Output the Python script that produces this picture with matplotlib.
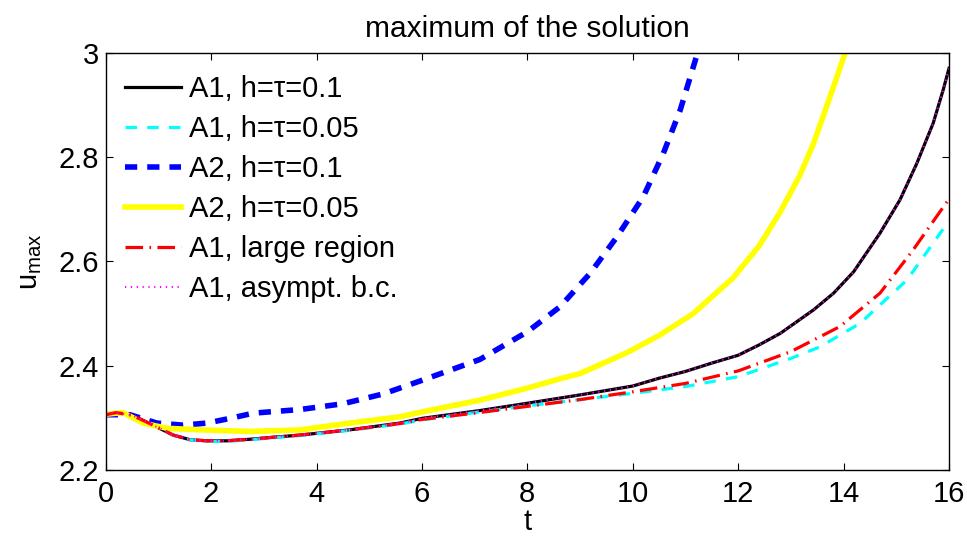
import matplotlib
matplotlib.use('Agg')
import matplotlib.pyplot as plt

plt.rcParams['font.family'] = ['Liberation Sans', 'DejaVu Sans']
plt.rcParams['mathtext.fontset'] = 'custom'
plt.rcParams['mathtext.rm'] = 'Liberation Sans'
plt.rcParams['mathtext.it'] = 'Liberation Sans'

# A1, h=tau=0.1 (black); A1 asympt. b.c. (magenta) lies on top of it
t_a1 = [0, 0.2, 0.5, 0.9, 1.28, 1.6, 1.92, 2.3, 2.74, 3.2, 3.69, 4.63, 5.58, 6.0, 7.1, 8.0,
        9.0, 10.0, 10.5, 11.0, 11.5, 12.0, 12.4, 12.8, 13.43, 13.81, 14.19, 14.69, 15.07,
        15.39, 15.7, 15.89, 16.0]
u_a1 = [2.306, 2.31, 2.305, 2.286, 2.267, 2.258, 2.256, 2.256, 2.259, 2.263, 2.267, 2.277,
        2.29, 2.299, 2.314, 2.328, 2.344, 2.361, 2.376, 2.389, 2.405, 2.42, 2.44, 2.462,
        2.507, 2.539, 2.58, 2.654, 2.718, 2.788, 2.865, 2.929, 2.97]

# A1, h=tau=0.05 (cyan)
t_a1f = [0, 0.2, 0.5, 0.9, 1.28, 1.6, 1.92, 2.3, 2.74, 3.2, 3.69, 4.63, 5.58, 6.0, 7.0, 8.0,
         9.0, 10.0, 11.0, 12.0, 13.0, 13.55, 14.31, 15.2, 15.7, 16.0]
u_a1f = [2.306, 2.31, 2.305, 2.286, 2.267, 2.258, 2.255, 2.255, 2.258, 2.262, 2.266, 2.276,
         2.288, 2.296, 2.31, 2.323, 2.335, 2.347, 2.36, 2.379, 2.414, 2.436, 2.481, 2.564,
         2.635, 2.678]

# A2, h=tau=0.1 (blue)
t_a2 = [0, 0.46, 0.97, 1.47, 1.92, 2.36, 2.8, 3.69, 4.5, 5.27, 6.03, 7.1, 8.0, 8.62, 9.19,
        9.7, 10.2, 10.58, 10.9, 11.2]
u_a2 = [2.306, 2.306, 2.29, 2.286, 2.29, 2.299, 2.309, 2.316, 2.327, 2.346, 2.373, 2.412,
        2.465, 2.513, 2.577, 2.647, 2.724, 2.807, 2.89, 2.99]

# A2, h=tau=0.05 (yellow)
t_a2f = [0, 0.33, 0.71, 1.16, 1.79, 2.74, 3.69, 4.63, 5.58, 6.03, 7.1, 8.0, 8.62, 9.0, 9.89,
         10.5, 11.15, 11.5, 11.9, 12.4, 12.8, 13.17, 13.43, 13.81, 14.03, 14.1]
u_a2f = [2.307, 2.31, 2.29, 2.28, 2.277, 2.274, 2.277, 2.29, 2.302, 2.312, 2.334, 2.357,
         2.375, 2.385, 2.425, 2.458, 2.5, 2.532, 2.568, 2.63, 2.695, 2.765, 2.826, 2.935,
         3.0, 3.02]

# A1, large region (red)
t_lr = [0, 0.2, 0.5, 0.9, 1.28, 1.6, 1.92, 2.3, 2.74, 3.2, 3.69, 4.63, 5.58, 6.0, 7.0, 8.0,
        9.0, 10.0, 11.0, 12.0, 13.0, 13.93, 14.69, 15.32, 15.96, 16.0]
u_lr = [2.306, 2.31, 2.305, 2.286, 2.267, 2.258, 2.256, 2.256, 2.259, 2.263, 2.267, 2.277,
        2.289, 2.297, 2.309, 2.322, 2.335, 2.35, 2.366, 2.39, 2.427, 2.475, 2.539, 2.622,
        2.714, 2.72]

fig = plt.figure(figsize=(9.67, 5.36), dpi=100)
ax = fig.add_axes([0.1093, 0.1231, 0.8721, 0.7786])

ax.plot(t_a1, u_a1, color='black', lw=2.3, label='A1, h=τ=0.1')
ax.plot(t_a1f, u_a1f, color='cyan', lw=2.3, dashes=(3.6, 3.2), label='A1, h=τ=0.05')
ax.plot(t_a2, u_a2, color='blue', lw=4, dashes=(2.2, 1.8), label='A2, h=τ=0.1')
ax.plot(t_a2f, u_a2f, color='yellow', lw=4, label='A2, h=τ=0.05')
ax.plot(t_lr, u_lr, color='red', lw=2.3, dashes=(5.5, 2, 0.5, 2), label='A1, large region')
ax.plot(t_a1, u_a1, color='magenta', lw=1.5, dashes=(0.6, 2.2), label='A1, asympt. b.c.')

ax.set_xlim(0, 16)
ax.set_ylim(2.2, 3.0)
ax.set_xticks([0, 2, 4, 6, 8, 10, 12, 14, 16])
ax.set_yticks([2.2, 2.4, 2.6, 2.8, 3.0])
ax.set_yticklabels(['2.2', '2.4', '2.6', '2.8', '3'])
ax.tick_params(direction='in', length=5, width=0.8, top=True, right=True, labelsize=21)
ax.tick_params(axis='x', pad=7)
ax.tick_params(axis='y', pad=5)
for s in ax.spines.values():
    s.set_linewidth(1.0)

ax.set_title('maximum of the solution', fontsize=21.5, pad=11)
ax.set_xlabel('t', fontsize=21, labelpad=0)
ax.set_ylabel('u$_{\\mathrm{max}}$', fontsize=21, labelpad=10)

leg = ax.legend(loc='upper left', frameon=False, fontsize=21, handlelength=1.9,
                handletextpad=0.3, labelspacing=0.41, borderpad=0, borderaxespad=0,
                bbox_to_anchor=(0.023, 0.946))

fig.savefig('out.png', dpi=100)
